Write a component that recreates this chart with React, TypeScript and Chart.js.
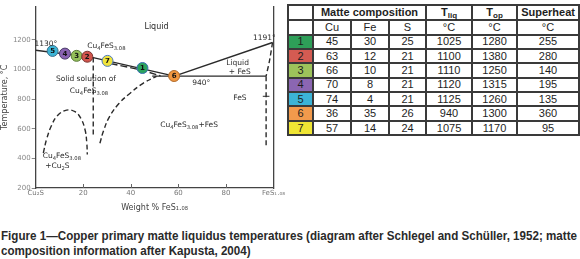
import React, { useEffect, useLayoutEffect, useRef } from "react";
import { Chart, registerables } from "chart.js";

Chart.register(...registerables);

const FONT = "'DejaVu Sans', sans-serif";

// ---- Phase diagram data (x: weight % FeS1.08, y: temperature °C) ----
const xTicks = [0, 20, 40, 60, 80, 100];
const xTickLabels = ["Cu₂S", "20", "40", "60", "80", "FeS₁.₀₈"];
const yTicks = [200, 400, 600, 800, 1000, 1200];

const liquidusLeft = [
  { x: 0, y: 1130 },
  { x: 24.2, y: 1080 },
  { x: 58.3, y: 955 },
];
const liquidusRight = [
  { x: 58.3, y: 955 },
  { x: 99.6, y: 1182 },
];
const eutecticLine = [
  { x: 49, y: 955 },
  { x: 96.9, y: 955 },
];
const solidusLower = [
  { x: 31.5, y: 1040 },
  { x: 44, y: 998 },
  { x: 52.5, y: 957 },
];
const ssBoundary = [
  { x: 24.2, y: 1080 },
  { x: 24.2, y: 556 },
];
const domeCurve = [
  { x: 3.2, y: 436 },
  { x: 4.6, y: 530 },
  { x: 6.6, y: 620 },
  { x: 9.2, y: 690 },
  { x: 13, y: 726 },
  { x: 16.5, y: 715 },
  { x: 19, y: 670 },
  { x: 20.8, y: 590 },
  { x: 21.5, y: 500 },
  { x: 21.7, y: 426 },
];
const rightCurve = [
  { x: 27, y: 502 },
  { x: 28.5, y: 585 },
  { x: 31, y: 680 },
  { x: 35, y: 770 },
  { x: 39.6, y: 838 },
  { x: 45, y: 905 },
  { x: 50.8, y: 954 },
];
const fesSolidus = [
  { x: 99.6, y: 1182 },
  { x: 98.4, y: 1065 },
  { x: 96.9, y: 955 },
];
const fesVertical = [
  { x: 96.9, y: 955 },
  { x: 96.9, y: 480 },
];
const fesTick = [
  { x: 95.5, y: 819 },
  { x: 98.3, y: 819 },
];

const pointIds = ["5", "4", "3", "2", "7", "1", "6"];
const pointX = [7.1, 12.3, 17.2, 21.7, 30.2, 44.9, 58.2];
const pointT = [1125, 1107, 1092, 1086, 1058, 1010, 956];
const pointColors = ["#3cb4d6", "#8a63b2", "#94c05a", "#d2544c", "#efe33a", "#2ba35e", "#f2973f"];
const pointBorders = ["#3a6f8a", "#4c3d6a", "#5b7a3a", "#7a3430", "#4a78c0", "#3a6fb5", "#b06a2a"];

const diagramLabels: { x: number; y: number; parts: [string, number?][]; size?: number }[] = [
  { x: 50.8, y: 1290, parts: [["Liquid"]], size: 8 },
  { x: 29.7, y: 1160, parts: [["Cu"], ["4", 1], ["FeS"], ["3.08", 1]] },
  { x: 21.1, y: 932, parts: [["Solid solution of"]] },
  { x: 22.4, y: 856, parts: [["Cu"], ["4", 1], ["FeS"], ["3.08", 1]] },
  { x: 84.9, y: 1045, parts: [["Liquid"]] },
  { x: 85.8, y: 980, parts: [["+ FeS"]] },
  { x: 69.6, y: 908, parts: [["940°"]] },
  { x: 85.9, y: 810, parts: [["FeS"]] },
  { x: 64.5, y: 625, parts: [["Cu"], ["4", 1], ["FeS"], ["3.08", 1], ["+FeS"]] },
  { x: 11.0, y: 415, parts: [["Cu"], ["4", 1], ["FeS"], ["3.08", 1]] },
  { x: 9.1, y: 350, parts: [["+Cu"], ["2", 1], ["S"]] },
  { x: 96.2, y: 1214, parts: [["1191°"]] },
  { x: 4.3, y: 1170, parts: [["1130°"]] },
];

// ---- Table data ----
const rowIds = ["1", "2", "3", "4", "5", "6", "7"];
const rowColors = ["#2e9f58", "#d45b52", "#9dc35b", "#8b66b2", "#3cb3d6", "#f29a4c", "#efe534"];
const cuValues = [45, 63, 66, 70, 74, 36, 57];
const feValues = [30, 12, 10, 8, 4, 35, 14];
const sValues = [25, 21, 21, 21, 21, 26, 24];
const tLiqValues = [1025, 1100, 1110, 1120, 1125, 940, 1075];
const tOpValues = [1280, 1380, 1250, 1315, 1260, 1300, 1170];
const superheatValues = [255, 280, 140, 195, 135, 360, 95];

const captionLine1 =
  "Figure 1\u2014Copper primary matte liquidus temperatures (diagram after Schlegel and Schüller, 1952; matte";
const captionLine2 = "composition information after Kapusta, 2004)";

function drawRich(ctx: CanvasRenderingContext2D, parts: [string, number?][], cx: number, cy: number, size: number) {
  const subSize = size * 0.7;
  const widths = parts.map((p) => {
    ctx.font = `${p[1] ? subSize : size}px ${FONT}`;
    return ctx.measureText(p[0]).width;
  });
  const total = widths.reduce((a, b) => a + b, 0);
  let x = cx - total / 2;
  ctx.textAlign = "left";
  ctx.textBaseline = "middle";
  ctx.fillStyle = "#2b2b2b";
  parts.forEach((p, i) => {
    ctx.font = `${p[1] ? subSize : size}px ${FONT}`;
    ctx.fillText(p[0], x, p[1] ? cy + size * 0.35 : cy);
    x += widths[i];
  });
}

const diagramPlugin = {
  id: "diagramExtras",
  afterDatasetsDraw(chart: any) {
    const ctx: CanvasRenderingContext2D = chart.ctx;
    const xs = chart.scales.x;
    const ys = chart.scales.y;
    ctx.save();
    ctx.strokeStyle = "#666";
    ctx.lineWidth = 1;
    xTicks.slice(1, -1).forEach((v) => {
      const px = Math.round(xs.getPixelForValue(v)) + 0.5;
      ctx.beginPath();
      ctx.moveTo(px, ys.bottom);
      ctx.lineTo(px, ys.bottom - 4);
      ctx.stroke();
    });
    const meta = chart.getDatasetMeta(0);
    ctx.fillStyle = "#111";
    ctx.font = `bold 7px ${FONT}`;
    ctx.textAlign = "center";
    ctx.textBaseline = "middle";
    meta.data.forEach((el: any, i: number) => {
      ctx.fillText(pointIds[i], el.x, el.y + 0.5);
    });
    diagramLabels.forEach((l) => {
      drawRich(ctx, l.parts, xs.getPixelForValue(l.x), ys.getPixelForValue(l.y), l.size || 7.5);
    });
    ctx.restore();
  },
};

function lineDs(data: { x: number; y: number }[], dashed: boolean, extra: any = {}) {
  return {
    data,
    showLine: true,
    pointRadius: 0,
    borderColor: "#2a2a2a",
    borderWidth: 1.4,
    borderDash: dashed ? [5, 3] : [],
    fill: false,
    ...extra,
  };
}

function PhaseDiagram() {
  const ref = useRef<HTMLCanvasElement>(null);
  useEffect(() => {
    if (!ref.current) return;
    const pts = pointX.map((x, i) => ({ x, y: pointT[i] }));
    const chart = new Chart(ref.current, {
      type: "scatter",
      data: {
        datasets: [
          {
            data: pts,
            pointRadius: 5.5,
            pointBackgroundColor: pointColors,
            pointBorderColor: pointBorders,
            pointBorderWidth: 1,
            showLine: false,
          } as any,
          lineDs(liquidusLeft, false),
          lineDs(liquidusRight, false),
          lineDs(eutecticLine, false),
          lineDs(solidusLower, true, { borderDash: [7, 3] }),
          lineDs(ssBoundary, true),
          lineDs(domeCurve, true, { tension: 0.4 }),
          lineDs(rightCurve, true, { tension: 0.4 }),
          lineDs(fesSolidus, true, { tension: 0.3 }),
          lineDs(fesVertical, true),
          lineDs(fesTick, false, { borderWidth: 1 }),
        ],
      },
      options: {
        animation: false,
        responsive: false,
        maintainAspectRatio: false,
        devicePixelRatio: 1,
        layout: { padding: { left: 0, right: 12, top: 0, bottom: 0 } },
        plugins: { legend: { display: false }, tooltip: { enabled: false } },
        scales: {
          x: {
            type: "linear",
            min: 0,
            max: 100,
            afterBuildTicks: (s: any) => {
              s.ticks = xTicks.map((v) => ({ value: v }));
            },
            afterFit: (s: any) => {
              s.height = 27;
            },
            grid: { display: false, drawTicks: false, tickLength: 0 },
            border: { display: true, color: "#444", width: 1.3 },
            ticks: {
              autoSkip: false,
              maxRotation: 0,
              padding: 1,
              color: "#777",
              font: { size: 7, family: FONT },
              callback: (_v: any, i: number) => xTickLabels[i],
            },
            title: {
              display: true,
              text: "Weight % FeS₁.₀₈",
              color: "#444",
              font: { size: 8, family: FONT },
              padding: { top: 0, bottom: 2 },
            },
          },
          y: {
            type: "linear",
            min: 200,
            max: 1425,
            afterBuildTicks: (s: any) => {
              s.ticks = yTicks.map((v) => ({ value: v }));
            },
            afterFit: (s: any) => {
              s.width = 35.7;
            },
            grid: { drawOnChartArea: false, drawTicks: true, tickLength: 4, color: "#888" },
            border: { display: true, color: "#444", width: 1.3 },
            ticks: {
              padding: 1,
              color: "#888",
              font: { size: 7, family: FONT },
              callback: (v: any) => String(v),
            },
            title: {
              display: true,
              text: "Temperature, °C",
              color: "#444",
              font: { size: 8, family: FONT },
              padding: 0,
            },
          },
          y2: {
            type: "linear",
            position: "right",
            min: 200,
            max: 1425,
            ticks: { display: false },
            grid: { display: false, drawTicks: false },
            border: { display: true, color: "#444", width: 1.3 },
            afterFit: (s: any) => {
              s.width = 0;
            },
          },
        },
      } as any,
      plugins: [diagramPlugin as any],
    });
    return () => chart.destroy();
  }, []);
  return (
    <canvas
      ref={ref}
      width={286}
      height={215}
      style={{ position: "absolute", left: 0, top: 0, width: 286, height: 215 }}
    />
  );
}

const cellBorder = "2px solid #3a3a3a";

function MatteTable() {
  const td: React.CSSProperties = {
    border: cellBorder,
    padding: 0,
    textAlign: "center",
    verticalAlign: "middle",
    lineHeight: "11px",
    fontSize: 11,
    color: "#1e1e1e",
  };
  const th: React.CSSProperties = { ...td, fontWeight: "bold" };
  const sub: React.CSSProperties = { fontSize: 8, lineHeight: 0, verticalAlign: -2 };
  return (
    <table
      style={{
        position: "absolute",
        left: 287,
        top: 4,
        width: 291,
        borderCollapse: "collapse",
        tableLayout: "fixed",
        fontFamily: "'Liberation Sans', Arial, sans-serif",
      }}
    >
      <colgroup>
        <col style={{ width: 25 }} />
        <col style={{ width: 38 }} />
        <col style={{ width: 38 }} />
        <col style={{ width: 37 }} />
        <col style={{ width: 46 }} />
        <col style={{ width: 45 }} />
        <col style={{ width: 62 }} />
      </colgroup>
      <tbody>
        <tr style={{ height: 15 }}>
          <td style={td}></td>
          <td style={th} colSpan={3}>Matte composition</td>
          <td style={th}>
            T<sub style={sub}>liq</sub>
          </td>
          <td style={th}>
            T<sub style={sub}>op</sub>
          </td>
          <td style={th}>Superheat</td>
        </tr>
        <tr style={{ height: 14.5 }}>
          <td style={td}></td>
          <td style={td}>Cu</td>
          <td style={td}>Fe</td>
          <td style={td}>S</td>
          <td style={td}>°C</td>
          <td style={td}>°C</td>
          <td style={td}>°C</td>
        </tr>
        {rowIds.map((id, i) => (
          <tr key={id} style={{ height: 14.4 }}>
            <td style={{ ...td, background: rowColors[i] }}>{id}</td>
            <td style={td}>{cuValues[i]}</td>
            <td style={td}>{feValues[i]}</td>
            <td style={td}>{sValues[i]}</td>
            <td style={td}>{tLiqValues[i]}</td>
            <td style={td}>{tOpValues[i]}</td>
            <td style={td}>{superheatValues[i]}</td>
          </tr>
        ))}
      </tbody>
    </table>
  );
}

function Caption() {
  const l1 = useRef<HTMLSpanElement>(null);
  const l2 = useRef<HTMLSpanElement>(null);
  useLayoutEffect(() => {
    if (!l1.current || !l2.current) return;
    const w = l1.current.getBoundingClientRect().width;
    const k = w > 0 ? 576 / w : 1;
    l1.current.style.transform = `scaleX(${k})`;
    l2.current.style.transform = `scaleX(${k})`;
  }, []);
  const base: React.CSSProperties = {
    position: "absolute",
    left: 1,
    whiteSpace: "nowrap",
    display: "inline-block",
    transformOrigin: "0 50%",
    fontFamily: "'Liberation Sans Narrow', 'Arial Narrow', 'Liberation Sans', Arial, sans-serif",
    fontWeight: "bold",
    fontSize: 12.5,
    lineHeight: "15px",
    color: "#2a2a2a",
  };
  return (
    <>
      <span ref={l1} style={{ ...base, top: 229 }}>
        {captionLine1}
      </span>
      <span ref={l2} style={{ ...base, top: 244 }}>
        {captionLine2}
      </span>
    </>
  );
}

export default function App() {
  return (
    <div
      style={{
        position: "fixed",
        left: 0,
        top: 0,
        width: 580,
        height: 259,
        background: "#ffffff",
        overflow: "hidden",
      }}
    >
      <PhaseDiagram />
      <MatteTable />
      <Caption />
    </div>
  );
}
